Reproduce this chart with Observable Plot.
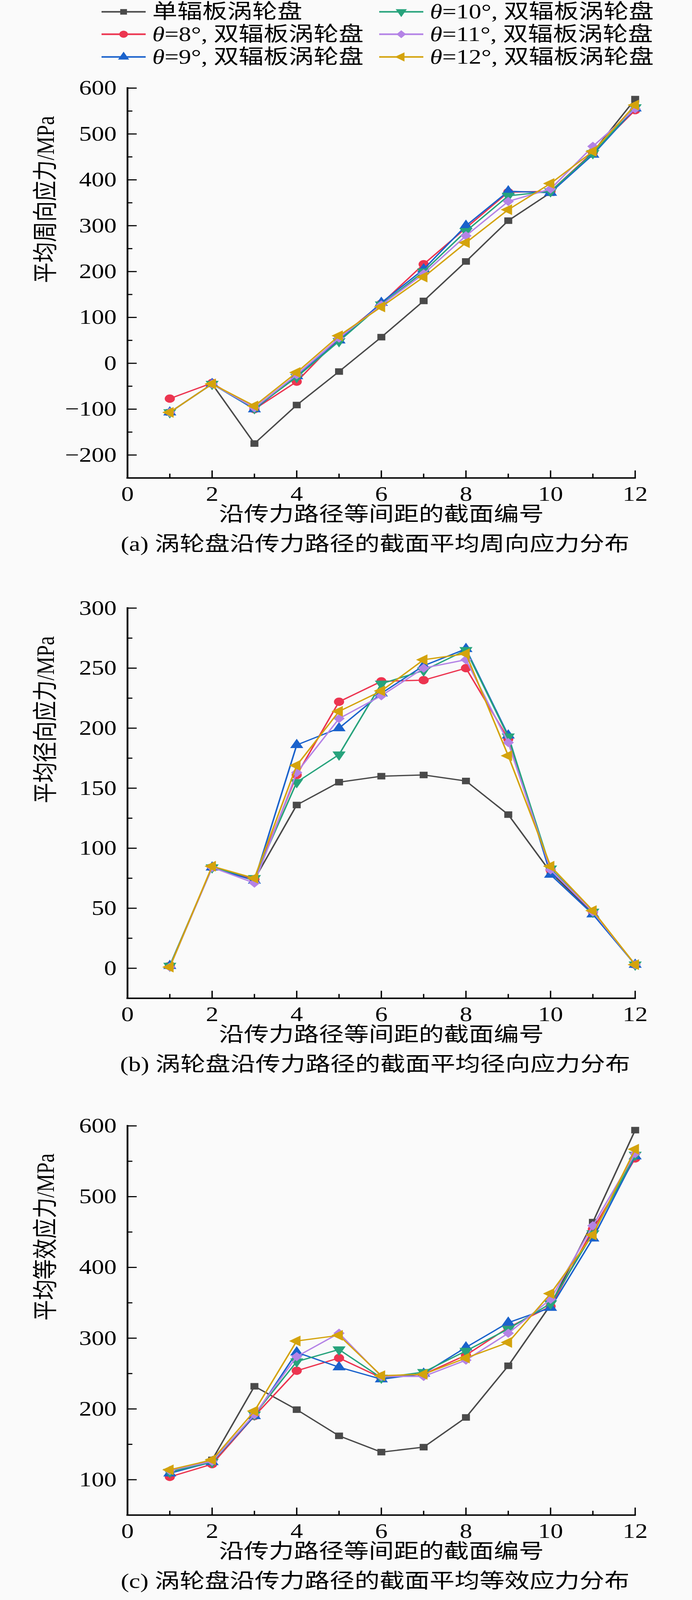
<!DOCTYPE html>
<html>
<head>
<meta charset="utf-8">
<script src="https://cdn.jsdelivr.net/npm/d3@7"></script>
<script src="https://cdn.jsdelivr.net/npm/@observablehq/plot@0.6"></script>
<style>
  html, body { margin: 0; padding: 0; background: #fafafa; overflow: hidden; }
  #root { position: relative; width: 1772px; height: 5003px; background: #fafafa; overflow: hidden;
          transform-origin: 0 0;
          font-family: "Liberation Serif", "Times New Roman", "Noto Sans CJK SC", serif; color: #000; }
  .panel { position: absolute; left: 0; }
  .leg { position: absolute; display: flex; align-items: center; height: 70px; font-size: 64px; line-height: 1; white-space: nowrap; }
  .leg svg { display: block; }
  .leg span { margin-left: 17px; }
</style>
</head>
<body>
<div id="root"></div>
<script>
// ---------------- data ----------------
const sections = [1, 2, 3, 4, 5, 6, 7, 8, 9, 10, 11, 12];
const seriesNames = ["单辐板涡轮盘", "θ=8°, 双辐板涡轮盘", "θ=9°, 双辐板涡轮盘",
                     "θ=10°, 双辐板涡轮盘", "θ=11°, 双辐板涡轮盘", "θ=12°, 双辐板涡轮盘"];
const seriesColors = ["#4a4a4a", "#ec3550", "#1a62cc", "#27a37c", "#b483e6", "#d4a30c"];

// (a) hoop stress, MPa
const hoopSingle = [-107, -45, -175, -91, -18, 57, 136, 222, 311, 372, 460, 576];
const hoop8  = [-77, -43, -100, -40, 55, 130, 216, 295, 373, 375, 460, 552];
const hoop9  = [-107, -45, -100, -28, 50, 132, 205, 300, 375, 372, 455, 556];
const hoop10 = [-107, -45, -98, -30, 48, 128, 200, 288, 365, 375, 458, 558];
const hoop11 = [-107, -45, -97, -25, 55, 127, 195, 278, 353, 380, 473, 555];
const hoop12 = [-107, -45, -93, -20, 60, 123, 188, 263, 335, 392, 462, 563];

// (b) radial stress, MPa
const radSingle = [2, 84, 74, 136, 155, 160, 161, 156, 128, 80, 46, 3];
const rad8  = [2, 84, 74, 161, 222, 239, 240, 250, 191, 82, 47, 3];
const rad9  = [2, 84, 73, 186, 200, 229, 252, 266, 194, 78, 45, 3];
const rad10 = [2, 84, 75, 155, 178, 237, 248, 265, 193, 83, 47, 3];
const rad11 = [1, 84, 71, 163, 208, 227, 250, 257, 188, 82, 47, 3];
const rad12 = [1, 85, 75, 169, 214, 231, 257, 262, 177, 85, 48, 3];

// (c) equivalent stress, MPa
const eqSingle = [112, 128, 232, 199, 162, 139, 146, 188, 261, 347, 464, 594];
const eq8  = [104, 122, 190, 254, 272, 244, 249, 276, 315, 345, 454, 554];
const eq9  = [109, 125, 190, 280, 259, 242, 250, 287, 322, 343, 441, 557];
const eq10 = [111, 125, 192, 267, 284, 244, 252, 282, 313, 349, 448, 559];
const eq11 = [113, 126, 192, 274, 307, 246, 246, 269, 307, 355, 459, 561];
const eq12 = [114, 128, 197, 296, 304, 247, 249, 272, 294, 363, 446, 567];

// tick labels
const xMajorTicks = [0, 2, 4, 6, 8, 10, 12];
const xMinorTicks = [1, 3, 5, 7, 9, 11];
const hoopTicks = [-200, -100, 0, 100, 200, 300, 400, 500, 600];
const hoopMinor = [-150, -50, 50, 150, 250, 350, 450, 550];
const radTicks = [0, 50, 100, 150, 200, 250, 300];
const radMinor = [25, 75, 125, 175, 225, 275];
const eqTicks = [100, 200, 300, 400, 500, 600];
const eqMinor = [150, 250, 350, 450, 550];

const xLabel = "沿传力路径等间距的截面编号";

// ---------------- symbols ----------------
const sqrt3 = Math.sqrt(3);
const triangleDown = {
  draw(ctx, size) {
    const y = -Math.sqrt(size / (sqrt3 * 3));
    ctx.moveTo(0, -2 * y);
    ctx.lineTo(sqrt3 * y, y);
    ctx.lineTo(-sqrt3 * y, y);
    ctx.closePath();
  }
};
const triangleLeft = {
  draw(ctx, size) {
    const y = -Math.sqrt(size / (sqrt3 * 3));
    ctx.moveTo(2 * y, 0);
    ctx.lineTo(-y, sqrt3 * y);
    ctx.lineTo(-y, -sqrt3 * y);
    ctx.closePath();
  }
};
const seriesSymbols = ["square", "circle", "triangle", triangleDown, "diamond2", triangleLeft];
const d3Symbols = [d3.symbolSquare, d3.symbolCircle, d3.symbolTriangle, triangleDown, d3.symbolDiamond2, triangleLeft];
const seriesR = [11.5, 13, 12.5, 12.5, 13, 12.5];

const FONT = "'Liberation Serif', 'Times New Roman', 'Noto Sans CJK SC', serif";
const root = document.getElementById("root");

// fit the 1772x5003 figure into the actual window (the window may be capped in height)
const fitK = Math.min(1, window.innerHeight / 5003);
root.style.transform = `scale(1, ${fitK})`;
document.body.style.height = (5003 * fitK) + "px";

// ---------------- legend ----------------
const legendPos = [
  {left: 260, cy: 37}, {left: 260, cy: 107}, {left: 260, cy: 178},
  {left: 971, cy: 37}, {left: 971, cy: 107}, {left: 971, cy: 178}
];
seriesNames.forEach((name, i) => {
  const p = legendPos[i];
  const div = document.createElement("div");
  div.className = "leg";
  div.style.left = p.left + "px";
  div.style.top = (p.cy - 35) + "px";
  const w = 113, h = 70;
  const svg = d3.create("svg").attr("width", w).attr("height", h);
  svg.append("line").attr("x1", 0).attr("x2", w).attr("y1", h / 2).attr("y2", h / 2)
    .attr("stroke", seriesColors[i]).attr("stroke-width", 5);
  const r = seriesR[i] * 0.85;
  svg.append("path")
    .attr("d", d3.symbol(d3Symbols[i], Math.PI * r * r)())
    .attr("transform", `translate(${w / 2},${h / 2})`)
    .attr("fill", seriesColors[i]);
  div.appendChild(svg.node());
  const span = document.createElement("span");
  if (name.startsWith("θ")) {
    span.innerHTML = "<i>θ</i>" + name.slice(1);
  } else {
    span.textContent = name;
  }
  div.appendChild(span);
  root.appendChild(div);
});

// ---------------- panels ----------------
function makePanel(cfg) {
  const marks = [];
  marks.push(Plot.ruleX([0], {stroke: "#000", strokeWidth: 4.5, strokeLinecap: "square"}));
  marks.push(Plot.ruleY([cfg.domain[0]], {stroke: "#000", strokeWidth: 4.5, strokeLinecap: "square"}));
  marks.push(Plot.axisY(cfg.major, {anchor: "left", tickSize: 24, dx: 24, fill: "none", strokeWidth: 3.5, label: null, tickFormat: () => ""}));
  marks.push(Plot.axisY(cfg.minor, {anchor: "left", tickSize: 13, dx: 13, fill: "none", strokeWidth: 3.5, label: null, tickFormat: () => ""}));
  marks.push(Plot.axisX(xMajorTicks.filter(d => d > 0), {anchor: "bottom", tickSize: 23, dy: -23, fill: "none", strokeWidth: 3.5, label: null, tickFormat: () => ""}));
  marks.push(Plot.axisX(xMinorTicks, {anchor: "bottom", tickSize: 13, dy: -13, fill: "none", strokeWidth: 3.5, label: null, tickFormat: () => ""}));
  marks.push(Plot.axisY(cfg.major, {anchor: "left", tickSize: 0, tickPadding: 28, fontSize: 64, label: null, fill: "#000"}));
  marks.push(Plot.axisX(xMajorTicks, {anchor: "bottom", tickSize: 0, tickPadding: 26, fontSize: 64, label: null, fill: "#000"}));
  cfg.values.forEach((vals, i) => {
    const rows = sections.map((x, j) => ({x, y: vals[j], s: seriesNames[i]}));
    marks.push(Plot.line(rows, {x: "x", y: "y", stroke: seriesColors[i], strokeWidth: 4}));
    marks.push(Plot.dot(rows, {x: "x", y: "y", fill: seriesColors[i], r: seriesR[i], symbol: seriesSymbols[i]}));
  });
  marks.push(Plot.text([cfg.ylabel], {frameAnchor: "left", dx: -209, rotate: -90, fontSize: 64, fill: "#000"}));
  marks.push(Plot.text([xLabel], {frameAnchor: "bottom", dy: 135, fontSize: 64, fill: "#000"}));
  marks.push(Plot.text([cfg.caption], {frameAnchor: "bottom", dy: 228, dx: -16, fontSize: 64, fill: "#000"}));

  const svg = Plot.plot({
    width: 1772,
    height: cfg.height,
    marginTop: cfg.marginTop,
    marginBottom: cfg.marginBottom,
    marginLeft: 326,
    marginRight: 146,
    x: {domain: [0, 12]},
    y: {domain: cfg.domain},
    style: {background: "transparent", fontFamily: FONT, overflow: "visible", color: "#000"},
    marks
  });
  const div = document.createElement("div");
  div.className = "panel";
  div.style.top = cfg.top + "px";
  div.appendChild(svg);
  root.appendChild(div);
}

makePanel({
  top: 230, height: 1554, marginTop: 45, marginBottom: 290,
  domain: [-250, 600], major: hoopTicks, minor: hoopMinor,
  values: [hoopSingle, hoop8, hoop9, hoop10, hoop11, hoop12],
  ylabel: "平均周向应力/MPa",
  caption: "(a) 涡轮盘沿传力路径的截面平均周向应力分布"
});
makePanel({
  top: 1784, height: 1616, marginTop: 117, marginBottom: 279,
  domain: [-25, 300], major: radTicks, minor: radMinor,
  values: [radSingle, rad8, rad9, rad10, rad11, rad12],
  ylabel: "平均径向应力/MPa",
  caption: "(b) 涡轮盘沿传力路径的截面平均径向应力分布"
});
makePanel({
  top: 3400, height: 1603, marginTop: 120, marginBottom: 266,
  domain: [50, 600], major: eqTicks, minor: eqMinor,
  values: [eqSingle, eq8, eq9, eq10, eq11, eq12],
  ylabel: "平均等效应力/MPa",
  caption: "(c) 涡轮盘沿传力路径的截面平均等效应力分布"
});
</script>
</body>
</html>
